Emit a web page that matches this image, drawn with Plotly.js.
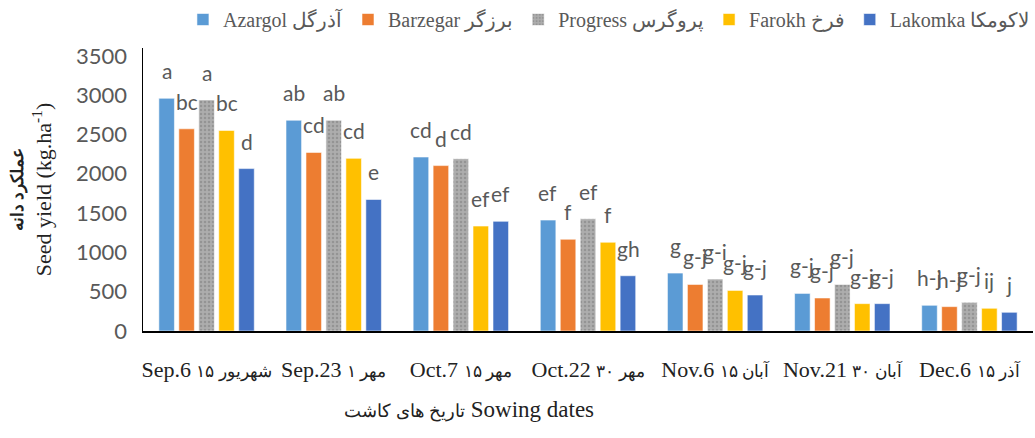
<!DOCTYPE html>
<html><head><meta charset="utf-8">
<script src="https://cdn.plot.ly/plotly-3.0.1.min.js"></script>
<style>html,body{margin:0;padding:0;background:#fff}</style>
</head><body><div id="chart" style="width:1035px;height:438px"></div>
<script>
// ---- data ----
const dates = ["Sep.6", "Sep.23", "Oct.7", "Oct.22", "Nov.6", "Nov.21", "Dec.6"];
const persianDates = ["۱۵ شهریور", "۱ مهر", "۱۵ مهر", "۳۰ مهر", "۱۵ آبان", "۳۰ آبان", "۱۵ آذر"];
const seriesNames = ["Azargol آذرگل", "Barzegar برزگر", "Progress پروگرس", "Farokh فرخ", "Lakomka لاکومکا"];
const azargol  = [2960, 2681, 2213, 1411, 737, 478, 327];
const barzegar = [2572, 2272, 2104, 1167, 592, 420, 310];
const progress = [2939, 2681, 2192, 1428, 661, 592, 365];
const farokh   = [2551, 2196, 1335, 1129, 516, 348, 289];
const lakomka  = [2066, 1673, 1395, 703, 458, 348, 238];
const azargolLetters  = ["a", "ab", "cd", "ef", "g", "g-j", "h-j"];
const barzegarLetters = ["bc", "cd", "d", "f", "g-j", "g-j", "h-j"];
const progressLetters = ["a", "ab", "cd", "ef", "g-i", "g-j", "g-j"];
const farokhLetters   = ["bc", "cd", "ef", "f", "g-j", "g-j", "ij"];
const lakomkaLetters  = ["d", "e", "ef", "gh", "g-j", "g-j", "j"];
const yTicks = [0, 500, 1000, 1500, 2000, 2500, 3000, 3500];
const xTitlePersian = "تاریخ های کاشت";
const xTitleEnglish = "Sowing dates";

// ---- styling ----
const colors = ["#5B9BD5", "#ED7D31", "#A5A5A5", "#FFC000", "#4472C4"];
const values = [azargol, barzegar, progress, farokh, lakomka];
const letters = [azargolLetters, barzegarLetters, progressLetters, farokhLetters, lakomkaLetters];

const W = 1035, H = 438, ML = 143, MR = 0, MT = 47, MB = 107;
const bargap = 0.215, bargroupgap = 0.22;

const traces = values.map((v, i) => ({
  type: "bar",
  name: seriesNames[i],
  x: dates,
  y: v,
  marker: Object.assign({
    color: colors[i],
    line: {color: "rgba(255,255,255,0.7)", width: 0.8}
  }, i === 2 ? {pattern: {shape: ".", fgcolor: "#949494", bgcolor: "#adadad", size: 4, solidity: 0.3}} : {}),
  hoverinfo: "x+y+name"
}));

const plotW = W - ML - MR;
const slot = plotW / dates.length * (1 - bargap) / values.length;
const annotations = [];
values.forEach((v, i) => {
  v.forEach((val, j) => {
    annotations.push({
      x: dates[j], y: val, xref: "x", yref: "y",
      text: letters[i][j], showarrow: false,
      xshift: (i - 2) * slot, yshift: 13, yanchor: "bottom",
      font: {family: "Lato, 'Open Sans', sans-serif", size: 21, color: "#595959"}
    });
  });
});
annotations.push({
  xref: "paper", yref: "paper", x: (470 - ML) / plotW, y: -(410 - (H - MB)) / (H - MT - MB),
  xanchor: "center", yanchor: "middle", showarrow: false,
  text: "<span style='font-size:18px'>" + xTitlePersian + "</span> " + xTitleEnglish,
  font: {family: "'Liberation Serif', 'DejaVu Serif', serif", size: 23, color: "#222"}
});

const tickText = dates.map((d, j) => d + " <span style='font-size:17px'>" + persianDates[j] + "</span>");

const layout = {
  width: W, height: H,
  margin: {l: ML, r: MR, t: MT, b: MB, pad: 0},
  paper_bgcolor: "#fff", plot_bgcolor: "#fff",
  barmode: "group", bargap: bargap, bargroupgap: bargroupgap,
  showlegend: true,
  legend: {
    orientation: "h", x: (610 - ML) / plotW, xanchor: "center",
    y: 1 + (47 - 18) / (H - MT - MB), yanchor: "middle",
    font: {family: "'Liberation Serif', 'DejaVu Serif', serif", size: 20, color: "#595959"},
    itemclick: false, itemdoubleclick: false, traceorder: "normal"
  },
  xaxis: {
    type: "category", range: [-0.5, dates.length - 0.5],
    tickvals: dates, ticktext: tickText, tickangle: 0,
    showline: true, linecolor: "#000", linewidth: 1.5,
    showgrid: false, zeroline: false, ticks: "",
    ticklabelstandoff: 18,
    tickfont: {family: "'Liberation Serif', 'DejaVu Serif', serif", size: 22, color: "#222"},
    fixedrange: true
  },
  yaxis: {
    range: [0, 3600], tickvals: yTicks,
    showline: true, linecolor: "#000", linewidth: 1.5,
    showgrid: false, zeroline: false, ticks: "",
    ticklabelstandoff: 10,
    tickfont: {family: "Lato, 'Open Sans', sans-serif", size: 22, color: "#595959"},
    title: {
      text: "<b><span style='font-size:17px'>عملکرد دانه</span></b><br>Seed yield (kg.ha<sup>-1</sup>)",
      font: {family: "'Liberation Serif', 'DejaVu Serif', serif", size: 22, color: "#222"},
      standoff: 18
    },
    fixedrange: true
  },
  annotations: annotations
};

Plotly.newPlot("chart", traces, layout, {displayModeBar: false, staticPlot: true});
</script>
</body></html>
